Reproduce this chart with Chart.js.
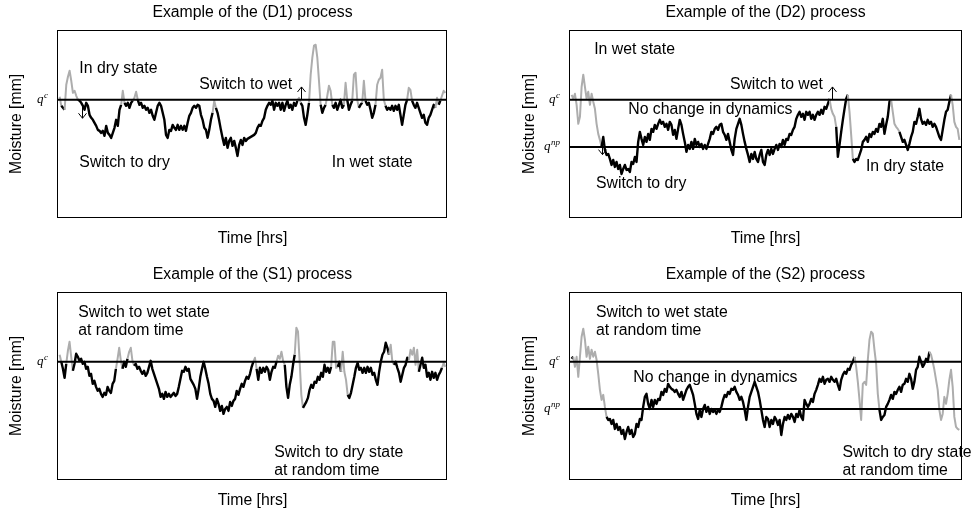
<!DOCTYPE html>
<html><head><meta charset="utf-8">
<script src="https://cdn.jsdelivr.net/npm/chart.js@4.4.1/dist/chart.umd.min.js"></script>
<style>
html,body{margin:0;padding:0;background:#fff;}
body{width:975px;height:512px;position:relative;overflow:hidden;}
canvas{position:absolute;display:block;}
</style></head><body>
<canvas id="cD1" width="487" height="250" style="left:0;top:0;width:487px;height:250px"></canvas>
<canvas id="cD2" width="488" height="250" style="left:487px;top:0;width:488px;height:250px"></canvas>
<canvas id="cS1" width="487" height="250" style="left:0;top:262px;width:487px;height:250px"></canvas>
<canvas id="cS2" width="488" height="250" style="left:487px;top:262px;width:488px;height:250px"></canvas>
<script>
// ---------- thresholds (moisture units) ----------
const QC = 117;    // q^c
const QNP = 70;    // q^np
const Y_MIN = 0, Y_MAX = 186;

// ---------- titles ----------
const titleD1 = 'Example of the (D1) process';
const titleD2 = 'Example of the (D2) process';
const titleS1 = 'Example of the (S1) process';
const titleS2 = 'Example of the (S2) process';
const xLabel = 'Time [hrs]';
const yLabel = 'Moisture [mm]';

// ---------- series (moisture per time sample) ----------
const d1Moisture = [
 120,111,109,107,132,140,146,136,124,126,
 121,117,116,114,111,107,114,111,102,99,
 97,94,91,87,86,84,86,81,91,84,
 82,79,84,89,97,91,107,112,126,114,
 111,114,109,114,116,119,125,117,112,114,
 109,111,107,109,104,107,101,97,104,111,
 114,111,104,97,82,79,87,86,92,89,
 87,92,87,91,87,91,86,94,101,104,
 109,111,109,112,111,102,97,89,87,79,
 87,97,104,116,109,104,96,87,79,72,
 79,69,76,79,71,76,69,61,72,77,
 72,79,76,78,79,80,81,82,
 84,89,92,91,96,99,107,111,114,112,
 116,107,114,111,114,107,114,106,112,116,
 109,112,107,114,111,116,119,114,111,99,
 92,102,114,142,159,171,172,159,136,112,
 104,109,112,121,131,126,112,109,114,107,
 112,117,109,112,134,117,107,112,116,142,
 144,117,109,112,114,136,116,112,114,107,
 99,104,112,132,137,139,147,117,111,107,
 109,107,111,106,111,107,112,102,92,102,
 112,117,129,127,116,112,109,114,109,104,
 99,102,94,92,99,102,107,112,109,119,
 112,116,121,126,124
];
const d1GraySpans = [[0,1],[3,11],[37,39],[44,47],[92,94],[143,145],[150,157],[160,164],[171,173],[176,180],[182,184],[190,196],[209,212],[226,228],[229,232]];

const d2Moisture = [
 122,118,123,112,93,100,130,142,130,118,
 125,112,123,115,108,93,83,77,70,80,
 67,62,63,58,52,57,50,55,48,52,
 43,48,52,47,48,45,55,53,60,55,
 75,85,78,72,80,75,83,77,88,85,
 92,88,93,97,93,95,90,93,87,95,
 92,82,87,78,88,97,92,83,75,65,
 72,68,75,68,78,72,75,70,73,68,
 72,68,73,78,85,83,88,90,87,92,
 93,85,82,77,83,75,67,62,78,88,
 93,98,92,83,75,68,62,55,63,58,
 65,58,55,62,67,55,52,62,
 67,62,68,63,68,72,67,73,70,77,
 72,78,77,83,82,87,90,98,102,105,
 100,103,97,105,102,105,98,102,97,102,
 105,102,107,103,110,108,113,118,108,103,
 100,90,60,72,85,97,108,118,122,105,
 82,58,55,58,57,62,67,75,77,80,
 75,83,80,85,83,88,85,93,90,98,
 83,92,100,115,117,105,93,90,88,85,
 80,75,77,72,67,73,80,85,95,93,
 100,108,98,93,95,92,97,93,95,90,
 93,90,85,80,77,87,97,105,107,115,
 122,112,95,90,88,77
];
const d2GraySpans = [[0,18],[155,159],[166,169],[192,197],[228,233]];

const s1Moisture = [
 124,117,110,101,115,128,137,122,108,115,
 125,122,118,120,115,117,110,112,103,105,
 95,98,92,88,90,85,82,86,84,92,
 88,86,95,98,110,120,131,118,110,117,
 112,120,127,131,118,113,115,110,112,108,
 105,108,103,106,112,118,110,105,100,95,
 90,82,85,80,87,82,85,82,84,86,
 83,85,92,100,108,107,112,108,110,100,
 97,94,90,80,90,102,110,117,110,102,
 95,85,80,78,72,80,75,68,73,65,
 70,72,68,77,73,78,80,88,84,90,
 95,92,98,102,100,105,112,117,
 121,110,99,111,106,111,107,112,109,99,
 107,112,111,117,123,120,127,118,114,92,
 81,94,102,114,124,151,147,117,84,71,
 74,77,81,89,94,91,97,96,102,99,
 106,102,114,107,111,106,112,137,137,111,
 112,117,107,127,107,99,84,81,86,94,
 102,111,116,109,111,106,111,106,112,107,
 111,104,106,99,94,107,117,124,127,136,
 131,124,134,117,114,117,111,106,97,104,
 111,114,121,119,129,124,131,114,129,107,
 114,121,111,114,102,106,99,107,101,106,
 99,104,107,111,116,112
];
const s1GraySpans = [[0,1],[4,8],[34,38],[41,45],[117,119],[131,136],[142,147],[164,168],[170,174],[199,202],[211,217],[231,233]];

const s2Moisture = [
 120,122,112,122,102,122,142,150,139,122,
 132,120,129,122,127,119,105,89,79,84,
 72,62,59,60,55,59,50,55,49,52,
 45,49,40,47,52,45,49,42,45,55,
 52,60,59,72,82,85,75,70,79,72,
 79,75,80,79,87,84,90,87,95,92,
 90,89,87,89,85,82,87,79,84,89,
 92,94,89,84,75,65,60,69,62,70,
 74,67,72,65,70,67,69,65,69,67,
 72,79,84,82,87,85,90,89,92,87,
 84,79,82,77,69,59,72,82,87,92,
 97,92,87,79,69,59,52,62,
 60,52,59,55,62,59,54,59,44,55,
 62,59,64,60,65,62,57,65,62,69,
 62,59,79,75,72,75,80,77,85,89,
 94,100,97,102,95,99,100,97,102,99,
 97,100,94,89,99,104,107,105,110,109,
 114,117,122,112,97,79,59,95,97,94,
 119,139,147,145,129,115,85,69,59,62,
 64,72,75,79,84,80,87,85,89,92,
 87,94,95,100,97,105,100,90,97,109,
 112,122,117,112,115,120,117,127,124,117,
 109,99,89,69,59,65,82,75,85,99,
 109,92,62,52,50,49
];
const s2GraySpans = [[1,21],[170,185],[215,233]];

// ---------- styling ----------
const BLACK = '#000000';
const GRAY = '#adadad';
const FONT = '"Liberation Sans", Arial, Helvetica, sans-serif';
const FS = 15.8;
Chart.defaults.font.family = FONT;
Chart.defaults.font.size = FS;
Chart.defaults.color = BLACK;

const inSpans = (spans, i0, i1) => spans.some(s => i0 >= s[0] && i1 <= s[1]);

const notesPlugin = {
  id: 'notes',
  afterDraw(chart, args, opts) {
    const {ctx, chartArea: a} = chart;
    const yS = chart.scales.y;
    const w = a.right - a.left, h = a.bottom - a.top;
    ctx.save();
    ctx.fillStyle = BLACK;
    ctx.font = FS + 'px ' + FONT;
    ctx.textAlign = 'left'; ctx.textBaseline = 'middle';
    for (const n of opts.notes) ctx.fillText(n.text, a.left + n.fx * w, a.top + n.fy * h);
    ctx.strokeStyle = BLACK; ctx.lineWidth = 1;
    for (const ar of opts.arrows) {
      const x = Math.round(a.left + ar.fx * w) + 0.5;
      const y0 = a.top + ar.fy0 * h, y1 = a.top + ar.fy1 * h;
      const dir = Math.sign(y1 - y0);
      ctx.beginPath();
      ctx.moveTo(x, y0); ctx.lineTo(x, y1);
      ctx.moveTo(x - 4, y1 - dir * 5); ctx.lineTo(x, y1); ctx.lineTo(x + 4, y1 - dir * 5);
      ctx.stroke();
    }
    for (const lv of opts.levels) {
      const py = yS.getPixelForValue(lv.value);
      const xr = a.left - 10;
      ctx.font = 'italic 9px "Liberation Serif", serif';
      const sw = ctx.measureText(lv.sup).width;
      ctx.textAlign = 'left'; ctx.textBaseline = 'alphabetic';
      ctx.fillText(lv.sup, xr - sw, py - 2);
      ctx.font = 'italic 13px "Liberation Serif", serif';
      ctx.textAlign = 'right';
      ctx.fillText('q', xr - sw - 0.5, py + 3);
    }
    ctx.restore();
  }
};

function makePanel(id, p) {
  const n = p.values.length;
  const series = p.values.map((v, i) => ({x: i, y: v}));
  const levelSets = p.levels.map(l => ({
    data: [{x: -1, y: l.value}, {x: n, y: l.value}],
    borderColor: BLACK, borderWidth: 2, pointRadius: 0, order: 0
  }));
  new Chart(document.getElementById(id), {
    type: 'line',
    data: {
      datasets: [...levelSets, {
        data: series,
        borderColor: BLACK,
        borderWidth: 2.4,
        borderJoinStyle: 'round',
        pointRadius: 0,
        order: 1,
        segment: {
          borderColor: c => inSpans(p.gray, c.p0DataIndex, c.p1DataIndex) ? GRAY : BLACK,
          borderWidth: c => inSpans(p.gray, c.p0DataIndex, c.p1DataIndex) ? 2 : 2.4
        }
      }]
    },
    options: {
      responsive: false, animation: false, devicePixelRatio: 1, events: [],
      layout: { autoPadding: false, padding: { left: p.padL, right: p.padR, top: 0, bottom: 0 } },
      plugins: {
        legend: { display: false }, tooltip: { enabled: false },
        title: { display: true, text: p.title, fullSize: false, color: BLACK,
                 font: { size: FS, weight: 'normal' }, padding: { top: 3.2, bottom: 8.5 } },
        notes: { notes: p.notes, arrows: p.arrows, levels: p.levels }
      },
      scales: {
        x: { type: 'linear', position: 'bottom', min: -1, max: n,
             ticks: { display: false }, grid: { display: false, drawTicks: false },
             border: { display: true, color: BLACK, width: 1 },
             title: { display: true, text: xLabel, color: BLACK, font: { size: FS }, padding: { top: 11.8, bottom: 2.2 } } },
        x2: { type: 'linear', position: 'top', min: -1, max: n,
             ticks: { display: false }, grid: { display: false, drawTicks: false },
             border: { display: true, color: BLACK, width: 1 } },
        y: { type: 'linear', position: 'left', min: Y_MIN, max: Y_MAX,
             ticks: { display: false }, grid: { display: false, drawTicks: false },
             border: { display: true, color: BLACK, width: 1 },
             title: { display: true, text: yLabel, color: BLACK, font: { size: FS }, padding: { top: 4, bottom: p.yTitleGap } } },
        y2: { type: 'linear', position: 'right', min: Y_MIN, max: Y_MAX,
             ticks: { display: false }, grid: { display: false, drawTicks: false },
             border: { display: true, color: BLACK, width: 1 } }
      }
    },
    plugins: [notesPlugin]
  });
}

const LEFT = { padL: 3, padR: 40, yTitleGap: 32 };
const RIGHT = { padL: 29.5, padR: 14, yTitleGap: 30.5 };

makePanel('cD1', Object.assign({}, LEFT, {
  title: titleD1, values: d1Moisture, gray: d1GraySpans,
  levels: [{value: QC, sup: 'c'}],
  notes: [
    {text: 'In dry state', fx: 0.055, fy: 0.206},
    {text: 'Switch to wet', fx: 0.363, fy: 0.291},
    {text: 'Switch to dry', fx: 0.055, fy: 0.706},
    {text: 'In wet state', fx: 0.704, fy: 0.706}
  ],
  arrows: [{fx: 0.625, fy0: 0.372, fy1: 0.302}, {fx: 0.062, fy0: 0.40, fy1: 0.47}]
}));

makePanel('cD2', Object.assign({}, RIGHT, {
  title: titleD2, values: d2Moisture, gray: d2GraySpans,
  levels: [{value: QC, sup: 'c'}, {value: QNP, sup: 'np'}],
  notes: [
    {text: 'In wet state', fx: 0.062, fy: 0.104},
    {text: 'Switch to wet', fx: 0.409, fy: 0.291},
    {text: 'No change in dynamics', fx: 0.149, fy: 0.426},
    {text: 'Switch to dry', fx: 0.0665, fy: 0.819},
    {text: 'In dry state', fx: 0.757, fy: 0.730}
  ],
  arrows: [{fx: 0.669, fy0: 0.372, fy1: 0.302}, {fx: 0.082, fy0: 0.60, fy1: 0.665}]
}));

makePanel('cS1', Object.assign({}, LEFT, {
  title: titleS1, values: s1Moisture, gray: s1GraySpans,
  levels: [{value: QC, sup: 'c'}],
  notes: [
    {text: 'Switch to wet state', fx: 0.052, fy: 0.109},
    {text: 'at random time', fx: 0.052, fy: 0.206},
    {text: 'Switch to dry state', fx: 0.556, fy: 0.861},
    {text: 'at random time', fx: 0.556, fy: 0.954}
  ],
  arrows: []
}));

makePanel('cS2', Object.assign({}, RIGHT, {
  title: titleS2, values: s2Moisture, gray: s2GraySpans,
  levels: [{value: QC, sup: 'c'}, {value: QNP, sup: 'np'}],
  notes: [
    {text: 'Switch to wet state', fx: 0.0665, fy: 0.109},
    {text: 'at random time', fx: 0.0665, fy: 0.206},
    {text: 'No change in dynamics', fx: 0.162, fy: 0.456},
    {text: 'Switch to dry state', fx: 0.697, fy: 0.858},
    {text: 'at random time', fx: 0.697, fy: 0.953}
  ],
  arrows: []
}));
</script>
</body></html>
